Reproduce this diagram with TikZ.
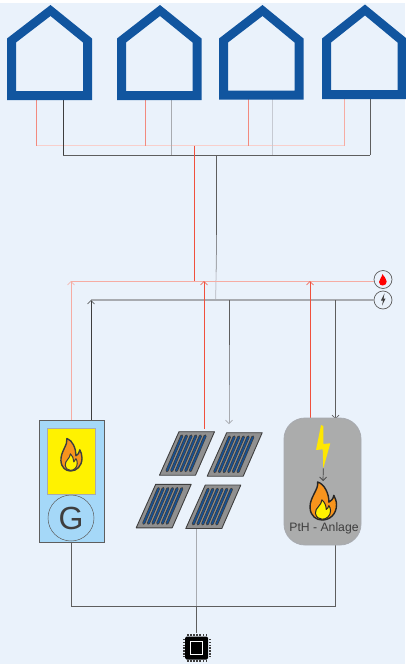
\documentclass[tikz,border=0pt]{standalone}
\usepackage{fontspec}
\setmainfont{Liberation Sans}
\usetikzlibrary{arrows.meta}
\definecolor{bgc}{HTML}{EAF2FB}
\definecolor{houseblue}{HTML}{11559F}
\definecolor{redA}{HTML}{F0503C}
\definecolor{redB}{HTML}{F28A7E}
\definecolor{redC}{HTML}{F6ACA3}
\definecolor{redD}{HTML}{F8CFCB}
\definecolor{darkA}{HTML}{3E3E3E}
\definecolor{darkB}{HTML}{5E5E5E}
\definecolor{midgrey}{HTML}{8C8E92}
\definecolor{greyA}{HTML}{A8ABB0}
\definecolor{greyB}{HTML}{C6CAD2}
\definecolor{genblue}{HTML}{A5D8F8}
\definecolor{panelgrey}{HTML}{909090}
\definecolor{cellblue}{HTML}{164F90}
\definecolor{pthgrey}{HTML}{ABACAC}
\definecolor{flameorange}{HTML}{F7941D}
\tikzset{
  wire/.style={line width=1pt},
  arrowhd/.style={-{Straight Barb[length=3.5pt,width=7pt,line width=0.7pt]}},
  house/.style={fill=houseblue,even odd rule,draw=none},
  badge/.style={circle,draw=darkB,line width=0.7pt,fill=bgc,minimum size=18pt,inner sep=0pt},
}
\newcommand{\flameshape}[7]{%
  \begin{scope}[shift={(#1,#2)},xscale=#3,yscale=#4]
    \draw[draw=#7,line width=1.4pt,fill=#5,line join=round]
      (0.3,0) .. controls (0.35,0.2) and (0,0.4) .. (0.02,0.68)
      .. controls (0.04,0.9) and (0.25,1) .. (0.47,1)
      .. controls (0.75,1) and (1,0.85) .. (1,0.6)
      .. controls (1,0.5) and (0.95,0.42) .. (0.9,0.35)
      .. controls (0.88,0.45) and (0.8,0.5) .. (0.72,0.53)
      .. controls (0.72,0.3) and (0.55,0.05) .. (0.3,0) -- cycle;
    \draw[draw=#7,line width=1pt,fill=#6,line join=round]
      (0.46,0.47) .. controls (0.45,0.62) and (0.2,0.68) .. (0.22,0.82)
      .. controls (0.24,0.93) and (0.36,0.98) .. (0.47,0.98)
      .. controls (0.62,0.98) and (0.78,0.9) .. (0.78,0.76)
      .. controls (0.78,0.7) and (0.75,0.65) .. (0.72,0.62)
      .. controls (0.7,0.68) and (0.66,0.7) .. (0.62,0.72)
      .. controls (0.62,0.62) and (0.55,0.52) .. (0.46,0.47) -- cycle;
  \end{scope}}
\newcommand{\housedraw}[5]{%
  \fill[house]
    (#1,#5) -- (#1,38.5) -- (#3,#4) -- (#2,38.5) -- (#2,#5) -- cycle
    (#1+9,#5-9) -- (#2-9,#5-9) -- (#2-9,42.5) -- (#3,#4+11) -- (#1+9,42.5) -- cycle;}
\newcommand{\panelmod}[2]{%
  \begin{scope}[shift={(#1,#2)}]
    \draw[draw=darkA,line width=0.9pt,fill=panelgrey,line join=round]
      (0,0) -- (35.5,0) -- (16.5,43.5) -- (-19.5,43.5) -- cycle;
    \foreach \k in {0,...,5}{
      \draw[line cap=round,line width=3pt,draw=darkA]
        (2.8+\k*4.67,4.2) -- (-12+\k*4.67,39);
      \draw[line cap=round,line width=1.6pt,draw=cellblue]
        (2.8+\k*4.67,4.6) -- (-11.9+\k*4.67,38.6);
    }
  \end{scope}}
\begin{document}
\begin{tikzpicture}[x=1pt,y=-1pt]
\useasboundingbox (0,0) rectangle (405,664);
\fill[white] (0,0) rectangle (405,664);
\fill[bgc] (0,3) rectangle (405,664);

\coordinate (h1r) at (36,100);   \coordinate (h1k) at (63,100);
\coordinate (h2r) at (145,100);  \coordinate (h2k) at (171,100);
\coordinate (h3r) at (248,99);   \coordinate (h3k) at (272,99);
\coordinate (h4r) at (344,99);   \coordinate (h4k) at (370,99);
\coordinate (upr) at (194.5,145.5);
\coordinate (upk) at (216.5,155);
\coordinate (lowr) at (194.5,281);
\coordinate (lowk) at (215.5,300);
\coordinate (gr) at (71,420);
\coordinate (gk) at (91,420);
\coordinate (pvr) at (204,429);
\coordinate (pvk) at (229,424);
\coordinate (pthr) at (310,419);
\coordinate (pthk) at (335.5,419);

\draw[wire,redD] (h1r |- upr) -- (h4r |- upr);
\draw[wire,darkB] (h1k |- upk) -- (h4k |- upk);
\draw[wire,redB] (h1r) -- (h1r |- upr);
\draw[wire,redB] (h2r) -- (h2r |- upr);
\draw[wire,redB] (h3r) -- (h3r |- upr);
\draw[wire,redC] (h4r) -- (h4r |- upr);
\draw[wire,darkA] (h1k) -- (h1k |- upk);
\draw[wire,greyA] (h2k) -- (h2k |- upk);
\draw[wire,greyB] (h3k) -- (h3k |- upk);
\draw[wire,darkB] (h4k) -- (h4k |- upk);
\draw[wire,redA] (upr) -- (lowr);
\draw[wire,darkB] (upk) -- (216.5,235);
\draw[wire,midgrey] (216.5,235) -- (216.5,255);
\draw[wire,greyA] (216.5,255) -- (216.2,272);
\draw[wire,greyB] (216.2,272) -- (lowk);

\housedraw{7}{92}{50.5}{5}{100}
\housedraw{117}{201.5}{160}{5}{100}
\housedraw{219}{303.5}{262.5}{5}{99.5}
\housedraw{322}{406.5}{365}{4.5}{99}

\node[badge] (heat) at (383,279.5) {};
\node[badge] (elec) at (383,300) {};
\begin{scope}
  \fill[red] (382.3,274) .. controls (382.5,277) and (379,279) .. (379,282)
    .. controls (379,284.5) and (381,285.5) .. (382.7,285.5)
    .. controls (385,285.5) and (386.7,284) .. (386.7,281.5)
    .. controls (386.7,278.5) and (384,277) .. (382.3,274) -- cycle;
\end{scope}
\fill[darkA] (384.5,293.3) -- (381,300.5) -- (383,300.5) -- (382,305.5) -- (385.5,298.5) -- (383.6,298.5) -- cycle;

\draw[wire,redC] (heat.west |- lowr) -- (71,281);
\draw[wire,greyA,line width=1.2pt] (elec.west) -- (91,300);
\draw[wire,arrowhd,redC] (gr) -- (gr |- lowr);
\draw[wire,arrowhd,darkA] (gk) -- (gk |- lowk);
\draw[wire,arrowhd,redA] (pvr) -- (pvr |- lowr);
\draw[wire,arrowhd,redA] (pthr) -- (pthr |- lowr);
\draw[wire,darkB] (pvk |- lowk) -- (229,345);
\draw[wire,midgrey] (229,345) -- (229,385);
\draw[wire,arrowhd,greyA] (229,385) -- (pvk);
\draw[wire,arrowhd,darkB] (pthk |- lowk) -- (pthk);

\coordinate (ctl) at (196.5,606);
\draw[wire,darkB] (71,542) -- (71,606) -- (335,606) -- (335,545);
\draw[wire,greyA] (196.5,528) -- (ctl);
\draw[wire,darkB] (ctl) -- (196.5,633);

\node[draw=darkB,line width=0.8pt,fill=genblue,minimum width=64.5pt,minimum height=122pt,inner sep=0pt] (gen) at (71.75,481) {};
\node[draw=greyA,line width=0.8pt,fill=yellow,minimum width=48pt,minimum height=66pt,inner sep=0pt] (burner) at (71,461) {};
\flameshape{60.5}{438.5}{21.5}{32.5}{flameorange}{yellow}{darkA}
\node[circle,draw=darkB,line width=0.5pt,minimum size=46pt,inner sep=0pt,font=\fontsize{32}{32}\selectfont,text=darkA] (G) at (71,518) {G};

\panelmod{179}{431.7}
\panelmod{226.7}{432.7}
\panelmod{155.7}{484.3}
\panelmod{205.3}{485}

\node[draw=greyA,line width=0.8pt,fill=pthgrey,rounded corners=21pt,minimum width=77pt,minimum height=127pt,inner sep=0pt] (pth) at (322.5,481.5) {};
\fill[yellow!90!orange] (321,425) -- (316,450) -- (322.7,449.3) -- (323.3,468.3) -- (330.3,443.3) -- (323.3,444) -- (323.3,426) -- cycle;
\coordinate (bolt) at (323.3,468.3);
\coordinate (flm) at (323,481);
\draw[line width=0.7pt,darkA,arrowhd] (bolt) -- (flm);
\flameshape{309.5}{482}{27}{38}{flameorange}{yellow}{black!85}
\node[font=\fontsize{12.2}{12.2}\selectfont,text=darkA,inner sep=0pt] (pthlabel) at (324,528.5) {PtH - Anlage};

\foreach \i in {0,...,6}{
  \fill[darkA] (187+\i*3.1,634) rectangle +(1.5,2);
  \fill[darkA] (187+\i*3.1,660) rectangle +(1.5,2);
  \fill[darkA] (182.6,638.8+\i*2.85) rectangle +(2,1.5);
  \fill[darkA] (208.6,638.8+\i*2.85) rectangle +(2,1.5);
}
\node[fill=black,rounded corners=1.5pt,minimum size=23pt,inner sep=0pt] (chip) at (196.6,648) {};
\node[draw=white,line width=1.1pt,fill=black,minimum size=12.5pt,inner sep=0pt] (core) at (196.6,648) {};
\end{tikzpicture}
\end{document}
